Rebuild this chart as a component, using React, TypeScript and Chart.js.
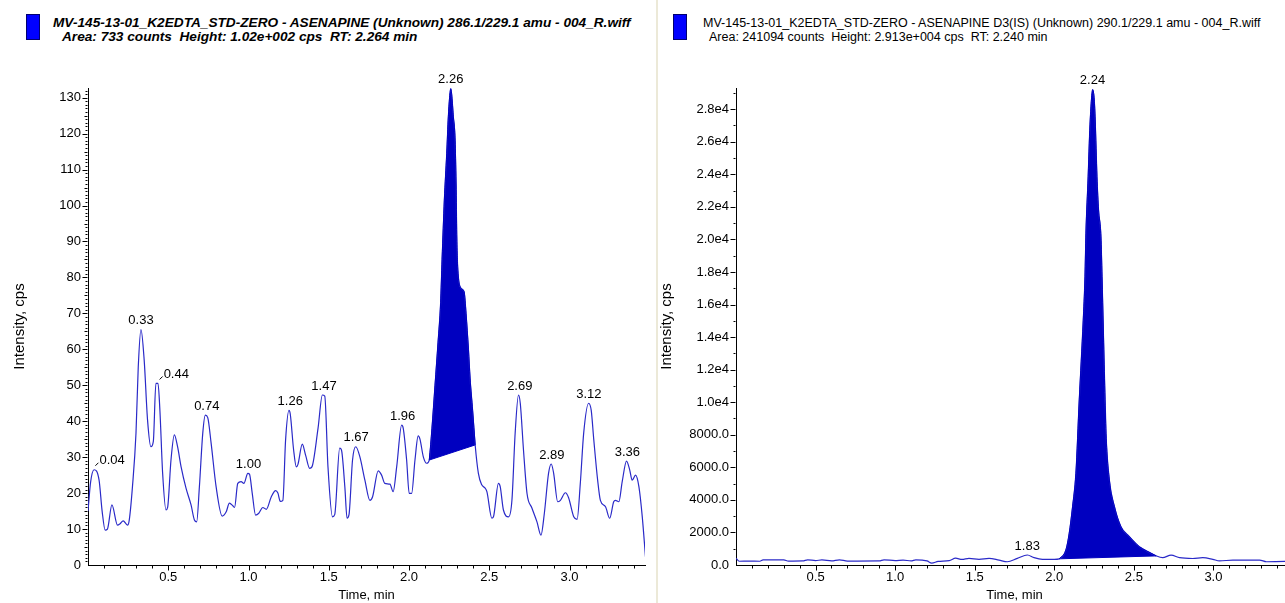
import React, { useEffect, useRef } from "react";
import { Chart, registerables } from "chart.js";

Chart.register(...registerables);
Chart.defaults.font.family = '"Liberation Sans", Arial, sans-serif';
Chart.defaults.color = "#000";

// ---------- Left panel: ASENAPINE 286.1/229.1 ----------
const leftTimes = [
  0.0, 0.016, 0.038, 0.069, 0.088, 0.107, 0.121, 0.149, 0.184, 0.2, 0.219, 0.246, 0.257, 0.277, 0.299, 0.313,
  0.33, 0.35, 0.371, 0.392, 0.407, 0.423, 0.436, 0.448, 0.465, 0.486, 0.496, 0.517, 0.538, 0.558, 0.58, 0.611,
  0.642, 0.663, 0.677, 0.694, 0.715, 0.731, 0.746, 0.767, 0.798, 0.836, 0.861, 0.881, 0.902, 0.913, 0.933, 0.954,
  0.971, 0.996, 1.006, 1.023, 1.044, 1.064, 1.089, 1.111, 1.142, 1.169, 1.183, 1.198, 1.214, 1.231, 1.252, 1.26,
  1.281, 1.298, 1.308, 1.335, 1.356, 1.381, 1.395, 1.433, 1.46, 1.475, 1.495, 1.523, 1.537, 1.568, 1.579, 1.6,
  1.614, 1.626, 1.648, 1.668, 1.693, 1.725, 1.756, 1.773, 1.808, 1.829, 1.849, 1.881, 1.901, 1.923, 1.954, 1.964,
  1.985, 2.001, 2.016, 2.037, 2.057, 2.068, 2.089, 2.11, 2.126, 2.143, 2.162, 2.181, 2.197, 2.206, 2.22, 2.235,
  2.245, 2.26, 2.276, 2.287, 2.293, 2.297, 2.304, 2.324, 2.343, 2.355, 2.37, 2.38, 2.396, 2.412, 2.432, 2.453,
  2.474, 2.485, 2.516, 2.526, 2.557, 2.568, 2.588, 2.62, 2.641, 2.661, 2.682, 2.693, 2.713, 2.735, 2.766, 2.797,
  2.822, 2.843, 2.869, 2.886, 2.901, 2.926, 2.943, 2.974, 2.994, 3.026, 3.047, 3.067, 3.088, 3.119, 3.135, 3.151,
  3.175, 3.192, 3.224, 3.25, 3.275, 3.286, 3.307, 3.328, 3.355, 3.375, 3.39, 3.411, 3.432, 3.453, 3.473,
];
const leftIntensity = [
  15, 23, 26.5, 23.6, 15, 9.7, 10, 16.7, 11.1, 11.5, 12.3, 11.1, 12.5, 21.8, 36.7, 55,
  65.5, 57, 40.3, 32.9, 34.4, 50.5, 50.5, 43, 25.5, 15.3, 16, 29.2, 36.2, 32.9, 27.3, 21.3,
  16.7, 12.5, 12, 21.8, 36.7, 41.7, 41, 33.9, 21.8, 13.6, 14.8, 17.2, 16.5, 16, 22.7, 23.2,
  22.7, 25.5, 25.3, 20, 13.9, 14.4, 16, 15.5, 19, 20.7, 20, 17.7, 18, 34.8, 43, 42,
  32, 27.3, 28, 33.6, 30.5, 26.9, 27.3, 38, 47.3, 47, 27.3, 13.4, 14, 32.5, 32, 21.8,
  13, 14, 29.2, 32.9, 30.2, 23.6, 18, 19, 26.2, 25, 22.7, 22.5, 20.4, 27.3, 38.9, 38,
  29.2, 19.9, 19.9, 29.2, 35.9, 35, 30.1, 28.3, 29.2, 38, 50, 62, 73, 85, 101.5, 114.5,
  124.7, 132.5, 124.7, 118, 106, 92, 82, 77, 76, 70, 60, 52, 43, 33.4, 25.5, 22.3,
  21.4, 20.4, 13, 13.4, 22.7, 21.8, 15.3, 13.4, 18, 36.6, 47.3, 45, 32, 19.9, 15.8, 12,
  8.3, 14.4, 25.5, 28.1, 25.5, 17.6, 18, 20.1, 18.7, 13.4, 12.7, 22.7, 36.7, 45, 43, 34.8,
  23.6, 18, 16.2, 13, 17.6, 18, 17.6, 23.2, 28.9, 26.4, 23.6, 25, 21.8, 13.4, 2.3,
];
const leftBaselineTimes = [2.126, 2.412];
const leftBaselineValues = [29.2, 33.4];
const leftPeakTimes = [0.04, 0.33, 0.44, 0.74, 1.0, 1.26, 1.47, 1.67, 1.96, 2.26, 2.69, 2.89, 3.12, 3.36];
const leftPeakHeights = [26.5, 65.5, 50.5, 41.7, 25.5, 43, 47.3, 32.9, 38.9, 132.5, 47.3, 28.1, 45, 28.9];
const leftXTickLabels = [0.5, 1.0, 1.5, 2.0, 2.5, 3.0];
const leftYTickLabels = [0, 10, 20, 30, 40, 50, 60, 70, 80, 90, 100, 110, 120, 130];

// ---------- Right panel: ASENAPINE D3 (IS) 290.1/229.1 ----------
const rightTimes = [
  0.0, 0.02, 0.08, 0.15, 0.17, 0.3, 0.33, 0.42, 0.45, 0.5, 0.54, 0.6, 0.65, 0.7, 0.9, 0.93,
  1.0, 1.05, 1.1, 1.13, 1.2, 1.23, 1.27, 1.34, 1.38, 1.42, 1.464, 1.527, 1.59, 1.653, 1.705, 1.768,
  1.831, 1.873, 1.926, 2.0, 2.031, 2.073, 2.094, 2.115, 2.136, 2.157, 2.182, 2.193, 2.199, 2.213, 2.22, 2.226,
  2.241, 2.251, 2.257, 2.268, 2.278, 2.293, 2.3, 2.308, 2.325, 2.346, 2.378, 2.419, 2.472, 2.535, 2.577, 2.64,
  2.681, 2.734, 2.787, 2.87, 2.933, 2.996, 3.038, 3.122, 3.29, 3.333, 3.448, 3.5,
];
const rightIntensity = [
  420, 230, 240, 230, 310, 320, 240, 250, 320, 270, 310, 250, 320, 240, 250, 320,
  270, 300, 250, 320, 250, 120, 220, 270, 420, 340, 410, 350, 410, 300, 200, 410,
  614, 450, 350, 350, 380, 920, 1950, 3580, 5630, 10140, 15000, 17710, 20380, 23860, 25910, 27340,
  29200, 28570, 27340, 23860, 21810, 20170, 17710, 14500, 8090, 5220, 3580, 2350, 1740, 1120, 880, 560,
  450, 610, 450, 400, 450, 350, 250, 300, 300, 200, 220, 220,
];
const rightBaselineTimes = [2.031, 2.64];
const rightBaselineValues = [380, 560];
const rightPeakTimes = [1.83, 2.24];
const rightPeakHeights = [614, 29200];
const rightXTickLabels = [0.5, 1.0, 1.5, 2.0, 2.5, 3.0];
const rightYTickLabels = [0, 2000, 4000, 6000, 8000, 10000, 12000, 14000, 16000, 18000, 20000, 22000, 24000, 26000, 28000];

// ---------- Header texts ----------
const leftTitle = "MV-145-13-01_K2EDTA_STD-ZERO - ASENAPINE (Unknown) 286.1/229.1 amu - 004_R.wiff";
const leftSubtitle = "Area: 733 counts  Height: 1.02e+002 cps  RT: 2.264 min";
const rightTitle = "MV-145-13-01_K2EDTA_STD-ZERO - ASENAPINE D3(IS) (Unknown) 290.1/229.1 amu - 004_R.wiff";
const rightSubtitle = "Area: 241094 counts  Height: 2.913e+004 cps  RT: 2.240 min";

const LINE_COLOR = "#2a2ac8";
const FILL_COLOR = "#0000c0";
const FONT = '"Liberation Sans", Arial, sans-serif';

function steps(from: number, to: number, step: number): number[] {
  const out: number[] = [];
  const n = Math.round((to - from) / step);
  for (let i = 0; i <= n; i++) out.push(+(from + i * step).toFixed(6));
  return out;
}

const tickMarksPlugin = {
  id: "tickMarks",
  afterDraw(chart: any, _args: any, opts: any) {
    const { ctx } = chart;
    const xs = chart.scales.x;
    const ys = chart.scales.y;
    const axisY = Math.round(ys.bottom) + 0.5;
    const axisX = Math.round(xs.left) - 0.5;
    ctx.save();
    ctx.strokeStyle = "#000";
    ctx.lineWidth = 1;
    ctx.beginPath();
    opts.xMinor.forEach((v: number) => {
      const p = Math.round(xs.getPixelForValue(v)) + 0.5;
      if (p > xs.right + 1) return;
      const major = Math.abs(v / opts.xMajorStep - Math.round(v / opts.xMajorStep)) < 1e-6;
      ctx.moveTo(p, axisY);
      ctx.lineTo(p, axisY + (major ? 5 : 3));
    });
    opts.yMinor.forEach((v: number) => {
      const p = Math.round(ys.getPixelForValue(v)) + 0.5;
      const major = Math.abs(v / opts.yMajorStep - Math.round(v / opts.yMajorStep)) < 1e-6;
      const mid = opts.yMidStep && Math.abs(v / opts.yMidStep - Math.round(v / opts.yMidStep)) < 1e-6;
      ctx.moveTo(axisX, p);
      ctx.lineTo(axisX - (major ? 5 : mid ? 3 : 2), p);
    });
    ctx.stroke();
    ctx.restore();
  },
};

const peakLabelsPlugin = {
  id: "peakLabels",
  afterDatasetsDraw(chart: any, _args: any, opts: any) {
    const { ctx } = chart;
    const xs = chart.scales.x;
    const ys = chart.scales.y;
    ctx.save();
    ctx.font = `13px ${FONT}`;
    ctx.fillStyle = "#000";
    ctx.textBaseline = "middle";
    opts.times.forEach((t: number, i: number) => {
      const text = t.toFixed(2);
      const px = xs.getPixelForValue(t);
      const py = ys.getPixelForValue(opts.heights[i]);
      if (opts.leader.includes(text)) {
        ctx.strokeStyle = "#000";
        ctx.lineWidth = 1;
        ctx.beginPath();
        ctx.moveTo(px + 1, py - 4);
        ctx.lineTo(px + 4, py - 7);
        ctx.stroke();
        ctx.textAlign = "left";
        ctx.fillText(text, px + 5, py - 9);
      } else {
        ctx.textAlign = "center";
        ctx.fillText(text, px, py - 9);
      }
    });
    ctx.restore();
  },
};

type PanelCfg = {
  times: number[];
  values: number[];
  baseT: number[];
  baseV: number[];
  peakT: number[];
  peakH: number[];
  xMax: number;
  yMax: number;
  xLabels: number[];
  yLabels: number[];
  yFormat: (v: number) => string;
  yWidth: number;
  padRight: number;
  yTitlePad: number;
  xMinor: number[];
  yMinor: number[];
  yMajorStep: number;
  yMidStep: number;
  leader: string[];
};

function buildChart(canvas: HTMLCanvasElement, c: PanelCfg) {
  const trace = c.times.map((t, i) => ({ x: t, y: c.values[i] }));
  const peak = trace.filter((p) => p.x >= c.baseT[0] - 1e-9 && p.x <= c.baseT[1] + 1e-9);
  const base = c.baseT.map((t, i) => ({ x: t, y: c.baseV[i] }));
  return new Chart(canvas, {
    type: "line",
    data: {
      datasets: [
        {
          data: peak,
          fill: { target: 2 },
          backgroundColor: FILL_COLOR,
          borderColor: FILL_COLOR,
          borderWidth: 1,
          pointRadius: 0,
          cubicInterpolationMode: "monotone",
        },
        {
          data: trace,
          fill: false,
          borderColor: LINE_COLOR,
          borderWidth: 1.2,
          pointRadius: 0,
          cubicInterpolationMode: "monotone",
        },
        { data: base, fill: false, borderColor: FILL_COLOR, borderWidth: 1, pointRadius: 0 },
      ],
    } as any,
    options: {
      responsive: false,
      maintainAspectRatio: false,
      animation: false,
      events: [],
      layout: { padding: { left: 0, right: c.padRight, top: 88, bottom: 0 } },
      elements: { point: { radius: 0 } },
      plugins: {
        legend: { display: false },
        tooltip: { enabled: false },
        filler: { drawTime: "beforeDatasetsDraw" },
        tickMarks: { xMinor: c.xMinor, yMinor: c.yMinor, xMajorStep: 0.5, yMajorStep: c.yMajorStep, yMidStep: c.yMidStep },
        peakLabels: { times: c.peakT, heights: c.peakH, leader: c.leader },
      } as any,
      scales: {
        x: {
          type: "linear",
          min: 0,
          max: c.xMax,
          grid: { display: false, drawTicks: false },
          border: { display: true, color: "#000", width: 1 },
          afterBuildTicks: (s: any) => {
            s.ticks = c.xLabels.map((v) => ({ value: v }));
          },
          afterFit: (s: any) => {
            s.height = 38;
          },
          ticks: {
            autoSkip: false,
            maxRotation: 0,
            padding: 5,
            color: "#000",
            font: { size: 13 },
            callback: (v: any) => Number(v).toFixed(1),
          },
          title: { display: true, text: "Time, min", color: "#000", font: { size: 13 }, padding: { top: 0, bottom: 0 } },
        },
        y: {
          type: "linear",
          min: 0,
          max: c.yMax,
          grid: { display: false, drawTicks: false },
          border: { display: true, color: "#000", width: 1 },
          afterBuildTicks: (s: any) => {
            s.ticks = c.yLabels.map((v) => ({ value: v }));
          },
          afterFit: (s: any) => {
            s.width = c.yWidth;
          },
          ticks: {
            autoSkip: false,
            padding: 7,
            color: "#000",
            font: { size: 13 },
            callback: (v: any) => c.yFormat(Number(v)),
          },
          title: { display: true, text: "Intensity, cps", color: "#000", font: { size: 15 }, padding: { top: c.yTitlePad, bottom: 0 } },
        },
      } as any,
    },
    plugins: [tickMarksPlugin, peakLabelsPlugin],
  } as any);
}

const leftCfg: PanelCfg = {
  times: leftTimes,
  values: leftIntensity,
  baseT: leftBaselineTimes,
  baseV: leftBaselineValues,
  peakT: leftPeakTimes,
  peakH: leftPeakHeights,
  xMax: 3.47,
  yMax: 132.7,
  xLabels: leftXTickLabels,
  yLabels: leftYTickLabels,
  yFormat: (v) => String(Math.round(v)),
  yWidth: 88,
  padRight: 10,
  yTitlePad: 11,
  xMinor: steps(0.1, 3.4, 0.1),
  yMinor: steps(1, 132, 1),
  yMajorStep: 10,
  yMidStep: 5,
  leader: ["0.04", "0.44"],
};

const rightCfg: PanelCfg = {
  times: rightTimes,
  values: rightIntensity,
  baseT: rightBaselineTimes,
  baseV: rightBaselineValues,
  peakT: rightPeakTimes,
  peakH: rightPeakHeights,
  xMax: 3.5,
  yMax: 29300,
  xLabels: rightXTickLabels,
  yLabels: rightYTickLabels,
  yFormat: (v) => (v < 10000 ? v.toFixed(1) : (v / 10000).toFixed(1) + "e4"),
  yWidth: 78,
  padRight: 5,
  yTitlePad: 0,
  xMinor: steps(0.1, 3.4, 0.1),
  yMinor: steps(1000, 29000, 1000),
  yMajorStep: 2000,
  yMidStep: 0,
  leader: [],
};

function Header(props: { left: number; textLeft: number; subLeft: number; title: string; sub: string; bold: boolean; size: number }) {
  const textStyle: React.CSSProperties = {
    position: "absolute",
    whiteSpace: "pre",
    fontFamily: FONT,
    fontSize: props.size,
    lineHeight: "14px",
    color: "#000",
    fontWeight: props.bold ? "bold" : "normal",
    fontStyle: props.bold ? "italic" : "normal",
  };
  return (
    <>
      <div
        style={{
          position: "absolute",
          left: props.left,
          top: 14,
          width: 14,
          height: 26,
          boxSizing: "border-box",
          background: "#0000ff",
          border: "1px solid #000070",
        }}
      />
      <div style={{ ...textStyle, left: props.textLeft, top: 16 }}>{props.title}</div>
      <div style={{ ...textStyle, left: props.subLeft, top: 30 }}>{props.sub}</div>
    </>
  );
}

export default function App() {
  const leftRef = useRef<HTMLCanvasElement>(null);
  const rightRef = useRef<HTMLCanvasElement>(null);

  useEffect(() => {
    const a = buildChart(leftRef.current as HTMLCanvasElement, leftCfg);
    const b = buildChart(rightRef.current as HTMLCanvasElement, rightCfg);
    return () => {
      a.destroy();
      b.destroy();
    };
  }, []);

  return (
    <div style={{ position: "fixed", left: 0, top: 0, width: 1285, height: 603, overflow: "hidden", background: "#fff" }}>
      <Header left={26} textLeft={53} subLeft={62} title={leftTitle} sub={leftSubtitle} bold={true} size={13.65} />
      <Header left={673} textLeft={703} subLeft={709} title={rightTitle} sub={rightSubtitle} bold={false} size={12.5} />
      <div style={{ position: "absolute", left: 656, top: 0, width: 2, height: 603, background: "#ece9d8" }} />
      <canvas ref={leftRef} width={655} height={603} style={{ position: "absolute", left: 0, top: 0, width: 655, height: 603 }} />
      <canvas ref={rightRef} width={640} height={603} style={{ position: "absolute", left: 658, top: 0, width: 640, height: 603 }} />
    </div>
  );
}
